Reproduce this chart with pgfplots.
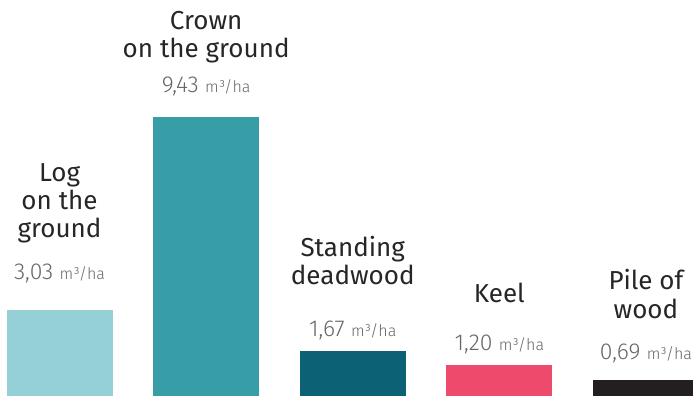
\documentclass[border=0pt]{standalone}
\usepackage{pgfplots}
\pgfplotsset{compat=1.18}
\usepackage{fontspec}
\setmainfont{Fira Sans}
\newfontfamily\lightfont{Fira Sans Light}
\definecolor{c1}{HTML}{96D0D7}
\definecolor{c2}{HTML}{379EA8}
\definecolor{c3}{HTML}{0D6174}
\definecolor{c4}{HTML}{EE4A6B}
\definecolor{c5}{HTML}{231F20}
\definecolor{namec}{HTML}{262626}
\definecolor{valc}{HTML}{666666}
\newcommand{\val}[1]{{\lightfont\fontsize{23}{28}\selectfont\color{valc}#1 {\fontsize{16}{28}\selectfont m³/ha}\rule[-6pt]{0pt}{6pt}}}
\begin{document}
\begin{tikzpicture}
\begin{axis}[
  hide axis, scale only axis,
  width=693pt, height=396pt,
  xmin=-0.406, xmax=4.321, ymin=0.166, ymax=13.30,
  ybar, bar width=0.723, bar shift=0pt,
  every node near coord/.style={align=center, anchor=south, inner sep=0pt,
     text=namec, font=\fontsize{26}{28}\selectfont},
]
\addplot[fill=c1, draw=none, nodes near coords={Log\\on the\\ground\\[14pt]\val{3,03}},
  every node near coord/.append style={yshift=24pt}] coordinates {(0,3.03)};
\addplot[fill=c2, draw=none, nodes near coords={Crown\\on the ground\\[7pt]\val{9,43}},
  every node near coord/.append style={yshift=18pt}] coordinates {(1,9.43)};
\addplot[fill=c3, draw=none, nodes near coords={Standing\\deadwood\\[24pt]\val{1,67}},
  every node near coord/.append style={yshift=8pt}] coordinates {(2,1.67)};
\addplot[fill=c4, draw=none, nodes near coords={Keel\\[20pt]\val{1,20}},
  every node near coord/.append style={yshift=8pt}] coordinates {(3,1.20)};
\addplot[fill=c5, draw=none, nodes near coords={Pile of\\wood\\[13pt]\val{0,69}},
  every node near coord/.append style={yshift=15pt}] coordinates {(4,0.69)};
\end{axis}
\pgfresetboundingbox
\path (current axis.south west) rectangle (current axis.north east);
\end{tikzpicture}
\end{document}
